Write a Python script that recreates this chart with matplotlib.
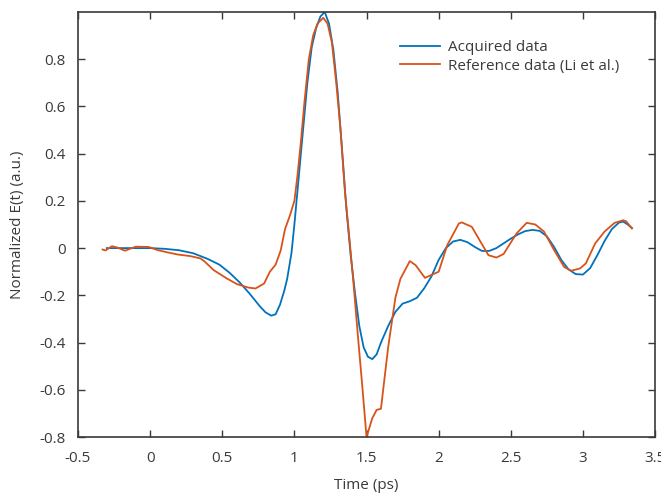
import matplotlib
matplotlib.use('Agg')
import matplotlib.pyplot as plt

# acquired THz pulse (blue)
t_acq = [-0.30, -0.20, -0.10, 0.0, 0.10, 0.20, 0.30, 0.40, 0.48, 0.55, 0.62, 0.69,
         0.76, 0.80, 0.84, 0.87, 0.90, 0.93, 0.95, 0.98, 1.00, 1.03, 1.06, 1.09,
         1.12, 1.15, 1.18, 1.21, 1.24, 1.27, 1.30, 1.33, 1.36, 1.39, 1.42, 1.45,
         1.48, 1.51, 1.54, 1.57, 1.60, 1.65, 1.70, 1.75, 1.80, 1.85, 1.90, 1.95,
         2.00, 2.05, 2.10, 2.15, 2.20, 2.25, 2.30, 2.35, 2.40, 2.45, 2.50, 2.55,
         2.60, 2.65, 2.70, 2.75, 2.80, 2.85, 2.90, 2.95, 3.00, 3.05, 3.10, 3.15,
         3.20, 3.25, 3.28, 3.31, 3.34]
e_acq = [0.0, 0.0, 0.0, 0.0, -0.003, -0.009, -0.022, -0.046, -0.07, -0.104, -0.145, -0.193,
         -0.246, -0.272, -0.286, -0.28, -0.24, -0.18, -0.13, -0.02, 0.10, 0.30, 0.50, 0.70,
         0.85, 0.93, 0.98, 1.0, 0.95, 0.84, 0.66, 0.42, 0.17, -0.03, -0.19, -0.33,
         -0.42, -0.46, -0.47, -0.45, -0.40, -0.33, -0.27, -0.235, -0.225, -0.21, -0.17, -0.12,
         -0.05, 0.0, 0.028, 0.035, 0.025, 0.005, -0.012, -0.012, 0.0, 0.02, 0.04, 0.058,
         0.072, 0.077, 0.073, 0.05, 0.005, -0.05, -0.09, -0.11, -0.112, -0.085, -0.03, 0.03,
         0.08, 0.108, 0.112, 0.10, 0.085]

# reference data (Li et al.), orange
t_ref = [-0.33, -0.31, -0.265, -0.23, -0.175, -0.10, -0.01, 0.05, 0.12, 0.19, 0.28, 0.35,
         0.38, 0.44, 0.53, 0.60, 0.68, 0.73, 0.79, 0.83, 0.87, 0.905, 0.935, 0.97,
         1.0, 1.02, 1.045, 1.07, 1.10, 1.13, 1.16, 1.20, 1.23, 1.26, 1.29, 1.32,
         1.35, 1.38, 1.41, 1.44, 1.47, 1.50, 1.54, 1.57, 1.60, 1.65, 1.70, 1.735,
         1.80, 1.84, 1.905, 2.00, 2.06, 2.14, 2.16, 2.23, 2.29, 2.345, 2.40, 2.45,
         2.54, 2.61, 2.67, 2.73, 2.80, 2.87, 2.92, 2.98, 3.02, 3.085, 3.15, 3.22,
         3.28, 3.30, 3.34]
e_ref = [-0.006, -0.01, 0.008, 0.003, -0.011, 0.006, 0.005, -0.008, -0.018, -0.027, -0.034, -0.044,
         -0.058, -0.093, -0.128, -0.152, -0.167, -0.171, -0.15, -0.10, -0.07, -0.01, 0.08, 0.14,
         0.20, 0.30, 0.45, 0.62, 0.80, 0.90, 0.95, 0.975, 0.95, 0.87, 0.70, 0.50,
         0.24, 0.05, -0.15, -0.37, -0.58, -0.80, -0.72, -0.685, -0.68, -0.42, -0.21, -0.13,
         -0.055, -0.072, -0.126, -0.10, 0.013, 0.104, 0.109, 0.09, 0.027, -0.03, -0.04, -0.025,
         0.062, 0.107, 0.10, 0.07, -0.008, -0.08, -0.096, -0.086, -0.065, 0.02, 0.07, 0.107,
         0.118, 0.113, 0.083]

xticks = [-0.5, 0, 0.5, 1, 1.5, 2, 2.5, 3, 3.5]
xticklabels = ['-0.5', '0', '0.5', '1', '1.5', '2', '2.5', '3', '3.5']
yticks = [-0.8, -0.6, -0.4, -0.2, 0, 0.2, 0.4, 0.6, 0.8]
yticklabels = ['-0.8', '-0.6', '-0.4', '-0.2', '0', '0.2', '0.4', '0.6', '0.8']

plt.rcParams['font.family'] = ['Open Sans', 'DejaVu Sans']
plt.rcParams['font.size'] = 11

fig = plt.figure(figsize=(6.61, 4.95), dpi=100)
ax = fig.add_axes([0.118, 0.117, 0.873, 0.859])

ax.plot(t_acq, e_acq, color='#0072BD', lw=1.3, label='Acquired data')
ax.plot(t_ref, e_ref, color='#D95319', lw=1.3, label='Reference data (Li et al.)')

ax.set_xlim(-0.5, 3.5)
ax.set_ylim(-0.8, 1.0)
ax.set_xticks(xticks)
ax.set_xticklabels(xticklabels)
ax.set_yticks(yticks)
ax.set_yticklabels(yticklabels)
ax.tick_params(direction='in', top=True, right=True, length=5, width=1,
               colors='#3a3a3a', labelcolor='#3a3a3a', labelsize=11)
ax.tick_params(axis='x', pad=10)
ax.tick_params(axis='y', pad=9)
for s in ax.spines.values():
    s.set_color('#3a3a3a')
    s.set_linewidth(1.2)

ax.set_xlabel('Time (ps)', color='#3a3a3a', labelpad=9)
ax.set_ylabel('Normalized E(t) (a.u.)', color='#3a3a3a', labelpad=10)

leg = ax.legend(loc='upper left', bbox_to_anchor=(0.545, 0.952), frameon=False,
                handlelength=2.6, handletextpad=0.55, labelspacing=0.25, borderpad=0)
for txt in leg.get_texts():
    txt.set_color('#3a3a3a')

fig.savefig('out.png', dpi=100)
